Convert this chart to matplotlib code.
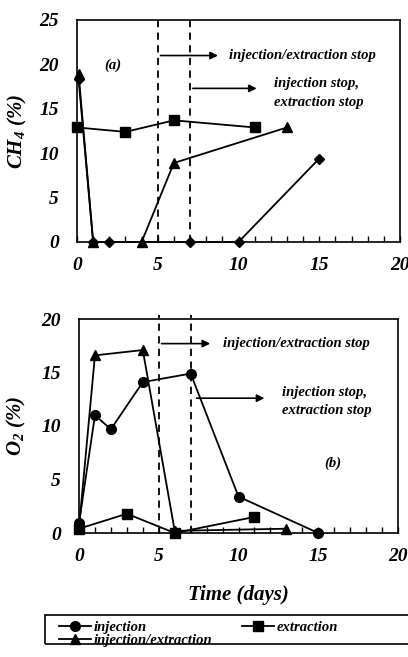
import matplotlib
matplotlib.use("Agg")
import matplotlib.pyplot as plt
from matplotlib.patches import Rectangle
from matplotlib.ticker import MultipleLocator

# =========================
# Data
# =========================
# (a) CH4
inj_days_a = [0.1, 1, 2, 7, 10, 15]
inj_ch4 = [18.3, 0, 0, 0, 0, 9.4]
ext_days_a = [0, 3, 6, 11]
ext_ch4 = [12.9, 12.4, 13.7, 12.9]
ie_days_a = [0.1, 1, 4, 6, 13]
ie_ch4 = [18.9, 0, 0, 8.9, 12.9]

# (b) O2
inj_days_b = [0, 1, 2, 4, 7, 10, 15]
inj_o2 = [0.9, 11.0, 9.7, 14.1, 14.9, 3.4, 0]
ext_days_b = [0, 3, 6, 11]
ext_o2 = [0.4, 1.8, 0, 1.5]
ie_days_b = [0, 1, 4, 6, 13]
ie_o2 = [0.5, 16.6, 17.1, 0.2, 0.4]

stop_days = [5, 7]

# =========================
# Style
# =========================
plt.rcParams["font.family"] = "Liberation Serif"
plt.rcParams["font.weight"] = "bold"
plt.rcParams["font.style"] = "italic"
plt.rcParams["mathtext.fontset"] = "custom"
plt.rcParams["mathtext.rm"] = "Liberation Serif:bold:italic"
plt.rcParams["mathtext.it"] = "Liberation Serif:bold:italic"
plt.rcParams["mathtext.bf"] = "Liberation Serif:bold:italic"

LW = 1.3
MS = 6
txt = dict(fontsize=10.5, fontweight="bold", fontstyle="italic")
arrow = dict(arrowstyle="-|>", lw=1.2, color="black", mutation_scale=11)

fig = plt.figure(figsize=(4.08, 6.57), dpi=100)
ax_a = fig.add_axes([77 / 408, 1 - 242 / 657, 323 / 408, 222 / 657])
ax_b = fig.add_axes([79 / 408, 1 - 533 / 657, 319 / 408, 214 / 657])


def style_axis(ax, ymax):
    ax.set_xlim(0, 20)
    ax.set_ylim(0, ymax)
    ax.xaxis.set_major_locator(MultipleLocator(5))
    ax.xaxis.set_minor_locator(MultipleLocator(1))
    ax.yaxis.set_major_locator(MultipleLocator(5))
    ax.tick_params(axis="x", which="both", direction="in", length=4, width=1, top=False, pad=11)
    ax.tick_params(axis="y", which="both", length=0, pad=13)
    for lab in ax.get_xticklabels() + ax.get_yticklabels():
        lab.set_fontsize(14)
        lab.set_fontweight("bold")
        lab.set_fontstyle("italic")
    for sp in ax.spines.values():
        sp.set_linewidth(1.2)
    for d in stop_days:
        ax.axvline(d, ymax=1.02, color="black", lw=1.3, ls=(0, (4, 3)), clip_on=False)


# =========================
# (a) CH4
# =========================
ax_a.plot(inj_days_a, inj_ch4, color="black", lw=LW, marker="D", ms=MS - 1, clip_on=False, zorder=3)
ax_a.plot(ext_days_a, ext_ch4, color="black", lw=LW, marker="s", ms=MS + 1, clip_on=False, zorder=3)
ax_a.plot(ie_days_a, ie_ch4, color="black", lw=LW, marker="^", ms=MS + 1, clip_on=False, zorder=3)
style_axis(ax_a, 25)
ax_a.set_ylabel("CH$_4$ (%)", fontsize=15, fontweight="bold", fontstyle="italic")
ax_a.yaxis.set_label_coords(-0.15, 0.5)

ax_a.text(2.2, 19.9, "(a)", ha="center", va="center", **txt)
ax_a.annotate("", xy=(8.9, 21), xytext=(5, 21), arrowprops=arrow)
ax_a.text(9.4, 21, "injection/extraction stop", ha="left", va="center", **txt)
ax_a.annotate("", xy=(11.3, 17.3), xytext=(7, 17.3), arrowprops=arrow)
ax_a.text(12.2, 16.8, "injection stop,\nextraction stop", ha="left", va="center",
          linespacing=1.55, **txt)

# =========================
# (b) O2
# =========================
l1, = ax_b.plot(inj_days_b, inj_o2, color="black", lw=LW, marker="o", ms=MS + 1, clip_on=False, zorder=3)
l2, = ax_b.plot(ext_days_b, ext_o2, color="black", lw=LW, marker="s", ms=MS + 1, clip_on=False, zorder=3)
l3, = ax_b.plot(ie_days_b, ie_o2, color="black", lw=LW, marker="^", ms=MS + 1, clip_on=False, zorder=3)
style_axis(ax_b, 20)
ax_b.set_ylabel("O$_2$ (%)", fontsize=15, fontweight="bold", fontstyle="italic")
ax_b.yaxis.set_label_coords(-0.16, 0.5)
ax_b.set_xlabel("Time (days)", fontsize=15, fontweight="bold", fontstyle="italic", labelpad=14)

ax_b.annotate("", xy=(8.4, 17.7), xytext=(5, 17.7), arrowprops=arrow)
ax_b.text(9.0, 17.7, "injection/extraction stop", ha="left", va="center", **txt)
ax_b.annotate("", xy=(11.8, 12.6), xytext=(7.2, 12.6), arrowprops=arrow)
ax_b.text(12.7, 12.3, "injection stop,\nextraction stop", ha="left", va="center",
          linespacing=1.55, **txt)
ax_b.text(15.9, 6.5, "(b)", ha="center", va="center", **txt)

# =========================
# Legend
# =========================
fig.add_artist(Rectangle((45 / 408, 1 - 644 / 657), 370 / 408, 29 / 657,
                         transform=fig.transFigure, fill=False, lw=1.2, edgecolor="black"))
fig.legend([l1, l3, l2], ["injection", "injection/extraction", "extraction"],
           loc="upper left", bbox_to_anchor=(50 / 408, 1 - 612 / 657), ncol=2,
           frameon=False, handlelength=2.2, handletextpad=0.2,
           columnspacing=2.0, labelspacing=0.0, borderpad=0.1,
           prop=dict(family="Liberation Serif", weight="bold", style="italic", size=10.5))

fig.savefig("out.png", dpi=100)
